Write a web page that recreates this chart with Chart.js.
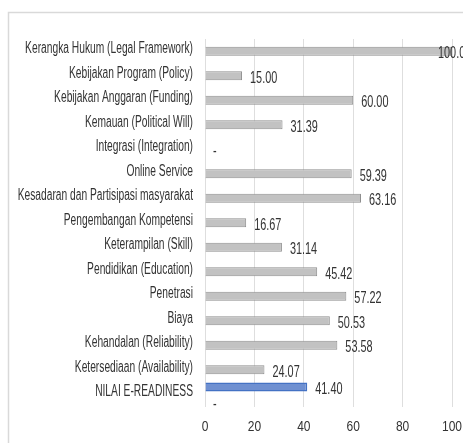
<!DOCTYPE html>
<html><head><meta charset="utf-8">
<script src="https://cdn.jsdelivr.net/npm/chart.js@4"></script>
<style>html,body{margin:0;padding:0;background:#fff;overflow:hidden}#wrap{position:relative;width:463px;height:443px}</style>
</head><body><div id="wrap"><canvas id="c" width="463" height="443"></canvas></div>
<script>
const categories = [
  'Kerangka Hukum (Legal Framework)',
  'Kebijakan Program (Policy)',
  'Kebijakan Anggaran (Funding)',
  'Kemauan (Political Will)',
  'Integrasi (Integration)',
  'Online Service',
  'Kesadaran dan Partisipasi masyarakat',
  'Pengembangan Kompetensi',
  'Keterampilan (Skill)',
  'Pendidikan (Education)',
  'Penetrasi',
  'Biaya',
  'Kehandalan (Reliability)',
  'Ketersediaan (Availability)',
  'NILAI E-READINESS'
];
const indicatorValues = [100.00, 15.00, 60.00, 31.39, 0, 59.39, 63.16, 16.67, 31.14, 45.42, 57.22, 50.53, 53.58, 24.07, 0];
const readinessValues = [null, null, null, null, null, null, null, null, null, null, null, null, null, null, 41.40];
const xTickValues = [0, 20, 40, 60, 80, 100];

const FONT = "'Liberation Sans', Arial, sans-serif";
const TEXT = '#333333';

function narrowText(ctx, txt, x, y, align, sx) {
  ctx.save();
  ctx.translate(x, y);
  ctx.scale(sx, 1);
  ctx.textAlign = align;
  ctx.fillText(txt, 0, 0);
  ctx.restore();
}

const frame = {
  id: 'frame',
  beforeDraw(chart) {
    const ctx = chart.ctx;
    ctx.save();
    ctx.fillStyle = '#ffffff';
    ctx.fillRect(0, 0, chart.width, chart.height);
    ctx.strokeStyle = '#d9d9d9';
    ctx.lineWidth = 1.5;
    ctx.beginPath();
    ctx.moveTo(8.5, chart.height);
    ctx.lineTo(8.5, 12.5);
    ctx.lineTo(chart.width, 12.5);
    ctx.stroke();
    ctx.restore();
  }
};

const texts = {
  id: 'texts',
  afterDraw(chart) {
    const ctx = chart.ctx;
    const xs = chart.scales.x, ys = chart.scales.y;
    ctx.save();
    ctx.fillStyle = TEXT;
    ctx.textBaseline = 'middle';
    // category labels
    ctx.font = '16px ' + FONT;
    chart.data.labels.forEach((lab, i) => {
      narrowText(ctx, lab, ys.right - 12, ys.getPixelForTick(i) - 2.5, 'right', 0.64);
    });
    // x tick labels
    ctx.font = '15px ' + FONT;
    xs.ticks.forEach((t, i) => {
      narrowText(ctx, String(t.value), xs.getPixelForTick(i), xs.top + 20, 'center', 0.8);
    });
    // value labels
    ctx.font = '16px ' + FONT;
    const sx = 0.68;
    chart.data.datasets.forEach((ds, di) => {
      const meta = chart.getDatasetMeta(di);
      meta.data.forEach((el, i) => {
        const v = ds.data[i];
        if (v === null || v === undefined) return;
        const txt = v === 0 ? '-' : v.toFixed(2);
        const w = ctx.measureText(txt).width * sx;
        let x = el.x + 8;
        if (x + w > chart.width) x = el.x - 14;
        narrowText(ctx, txt, x, el.y + 2.5, 'left', sx);
      });
    });
    ctx.restore();
  }
};

new Chart(document.getElementById('c'), {
  type: 'bar',
  data: {
    labels: categories,
    datasets: [
      {
        data: readinessValues,
        backgroundColor: '#6f90d1',
        borderColor: '#4472c4',
        borderWidth: 1.5,
        skipNull: true,
        categoryPercentage: 1.2,
        barPercentage: 1,
        maxBarThickness: 9
      },
      {
        data: indicatorValues,
        backgroundColor: '#c2c2c2',
        borderColor: '#8e8e8e',
        borderWidth: 1,
        skipNull: true,
        categoryPercentage: 1.2,
        barPercentage: 1,
        maxBarThickness: 9
      }
    ]
  },
  options: {
    indexAxis: 'y',
    responsive: false,
    animation: false,
    devicePixelRatio: 1,
    layout: { padding: { top: 39, right: 11, bottom: 0, left: 0 } },
    plugins: { legend: { display: false }, tooltip: { enabled: false } },
    scales: {
      x: {
        min: 0, max: 100,
        afterBuildTicks(s) { s.ticks = xTickValues.map(v => ({ value: v })); },
        afterFit(s) { s.height = 36.5; },
        grid: { color: '#dedede', lineWidth: 1, drawTicks: false },
        border: { display: false },
        ticks: { display: false }
      },
      y: {
        afterFit(s) { s.width = 205; },
        grid: { display: false, drawTicks: false },
        border: { display: false },
        ticks: { display: false, autoSkip: false }
      }
    }
  },
  plugins: [frame, texts]
});
</script>
</body></html>
